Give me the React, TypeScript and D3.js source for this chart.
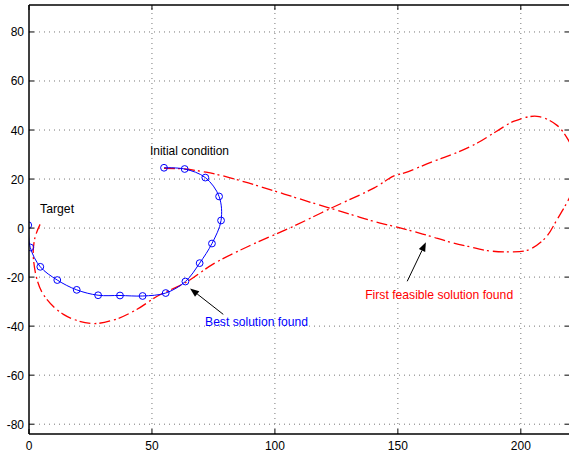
import React from 'react';
import * as d3 from 'd3';

const W = 569;
const H = 456;

const xTicks = [0, 50, 100, 150, 200];
const yTicks = [-80, -60, -40, -20, 0, 20, 40, 60, 80];

// best solution (blue, with circles)
const bestX = [54.9, 63.3, 71.7, 77.3, 78.1, 74.4, 69.4, 63.6, 55.6, 46.2, 37.0, 28.1, 19.4, 11.5, 4.6, 0.5, -0.3];
const bestY = [24.6, 24.1, 20.6, 12.9, 3.1, -6.3, -14.3, -21.8, -26.5, -27.7, -27.5, -27.4, -25.2, -21.2, -15.8, -7.9, 1.2];

// first feasible solution (red, dash-dot)
const feasX = [54.9, 63.3, 72.0, 80.4, 89.2, 98.0, 106.6, 115.2, 123.8, 131.7, 139.6, 147.5, 155.4, 163.1, 170.8, 178.6, 186.5, 195.0, 202.8, 210.0, 214.8, 218.7, 221.3, 222.3, 221.8, 219.4, 214.6, 206.6, 197.3, 190.0, 182.3, 173.7, 163.4, 152.7, 148.2, 140.4, 123.2, 106.2, 89.5, 75.0, 63.9, 52.3, 43.8, 35.0, 25.5, 14.0, 5.2, 1.8, 2.4, 4.5];
const feasY = [24.4, 24.1, 22.8, 20.9, 18.4, 15.7, 13.0, 10.3, 7.7, 5.3, 2.9, 0.9, -1.1, -3.3, -5.6, -7.5, -9.2, -9.7, -9.0, -4.0, 3.6, 10.3, 16.0, 23.0, 30.0, 35.8, 42.0, 45.6, 43.6, 39.4, 34.7, 30.7, 26.8, 22.5, 21.2, 16.4, 8.3, 0.1, -7.3, -14.6, -22.1, -27.7, -33.2, -37.3, -38.9, -35.2, -26.0, -12.5, -4.0, 1.5];

const labels = [
  { text: 'Initial condition', x: 49.2, y: 29.7, color: '#000', len: 79 },
  { text: 'Target', x: 4.5, y: 6.1, color: '#000', len: 34 },
  { text: 'Best solution found', x: 71.6, y: -40.0, color: '#0000ff', len: 103 },
  { text: 'First feasible solution found', x: 136.7, y: -29.1, color: '#ff0000', len: 148 },
];

const arrows = [
  { x1: 79.0, y1: -35.2, x2: 65.5, y2: -24.6 },
  { x1: 153.8, y1: -21.7, x2: 161.4, y2: -5.8 },
];

const font = '"Liberation Sans", Arial, Helvetica, sans-serif';

export default function App() {
  const x = d3.scaleLinear().domain([0, 220]).range([29, 570]);
  const y = d3.scaleLinear().domain([-84, 91]).range([434, 5]);
  const [x0, x1] = x.range();
  const [y0, y1] = y.range();

  const best = bestX.map((v, i) => [v, bestY[i]] as [number, number]);
  const feas = feasX.map((v, i) => [v, feasY[i]] as [number, number]);

  const line = d3.line<[number, number]>()
    .x(d => x(d[0]))
    .y(d => y(d[1]))
    .curve(d3.curveCatmullRom.alpha(0.5));

  return (
    <svg width={W} height={H} style={{ position: 'absolute', left: 0, top: 0, background: '#fff' }}>
      <defs>
        <clipPath id="plot">
          <rect x={x0} y={y1} width={x1 - x0} height={y0 - y1} />
        </clipPath>
      </defs>
      <rect x={0} y={0} width={W} height={H} fill="#fff" />
      {/* grid */}
      <g stroke="#777" strokeWidth={1} strokeDasharray="1,4">
        {xTicks.filter(t => t !== 0).map(t => (
          <line key={'gx' + t} x1={x(t)} x2={x(t)} y1={y0} y2={y1} />
        ))}
        {yTicks.map(t => (
          <line key={'gy' + t} x1={x0} x2={x1} y1={y(t)} y2={y(t)} />
        ))}
      </g>
      {/* data */}
      <g clipPath="url(#plot)">
        <path d={line(feas) || ''} fill="none" stroke="#ff0000" strokeWidth={1.3} strokeDasharray="11,3,2,4" />
        <path d={line(best) || ''} fill="none" stroke="#0000ff" strokeWidth={1} />
        {best.map((d, i) => (
          <circle key={i} cx={x(d[0])} cy={y(d[1])} r={3.4} fill="none" stroke="#0000ff" strokeWidth={1} />
        ))}
      </g>
      {/* axes box */}
      <g stroke="#000" strokeWidth={1.5} fill="none">
        <line x1={x0} x2={x0} y1={y0} y2={y1} />
        <line x1={x0} x2={x1} y1={y0} y2={y0} />
        <line x1={x0} x2={x1} y1={y1} y2={y1} />
        <line x1={x1} x2={x1} y1={y0} y2={y1} />
      </g>
      <g stroke="#000" strokeWidth={1}>
        {xTicks.map(t => (
          <g key={'tx' + t}>
            <line x1={x(t)} x2={x(t)} y1={y0} y2={y0 - 5} />
            <line x1={x(t)} x2={x(t)} y1={y1} y2={y1 + 5} />
          </g>
        ))}
        {yTicks.map(t => (
          <g key={'ty' + t}>
            <line x1={x0} x2={x0 + 5} y1={y(t)} y2={y(t)} />
            <line x1={x1} x2={x1 - 5} y1={y(t)} y2={y(t)} />
          </g>
        ))}
      </g>
      <g fontFamily={font} fontSize={12} fill="#000">
        {xTicks.map(t => (
          <text key={'lx' + t} x={x(t)} y={y0 + 16} textAnchor="middle">{t}</text>
        ))}
        {yTicks.map(t => (
          <text key={'ly' + t} x={x0 - 5} y={y(t) + 4.5} textAnchor="end">{t}</text>
        ))}
      </g>
      {/* annotations */}
      {arrows.map((a, i) => {
        const ax1 = x(a.x1), ay1 = y(a.y1), ax2 = x(a.x2), ay2 = y(a.y2);
        const ang = Math.atan2(ay2 - ay1, ax2 - ax1);
        const L = 9, Wd = 3.5;
        const bx = ax2 - L * Math.cos(ang), by = ay2 - L * Math.sin(ang);
        const px = -Math.sin(ang) * Wd, py = Math.cos(ang) * Wd;
        return (
          <g key={'ar' + i}>
            <line x1={ax1} y1={ay1} x2={bx} y2={by} stroke="#000" strokeWidth={1} />
            <polygon points={`${ax2},${ay2} ${bx + px},${by + py} ${bx - px},${by - py}`} fill="#000" />
          </g>
        );
      })}
      <g fontFamily={font} fontSize={13}>
        {labels.map(l => (
          <text key={l.text} x={x(l.x)} y={y(l.y)} fill={l.color} textLength={l.len} lengthAdjust="spacingAndGlyphs">{l.text}</text>
        ))}
      </g>
    </svg>
  );
}
